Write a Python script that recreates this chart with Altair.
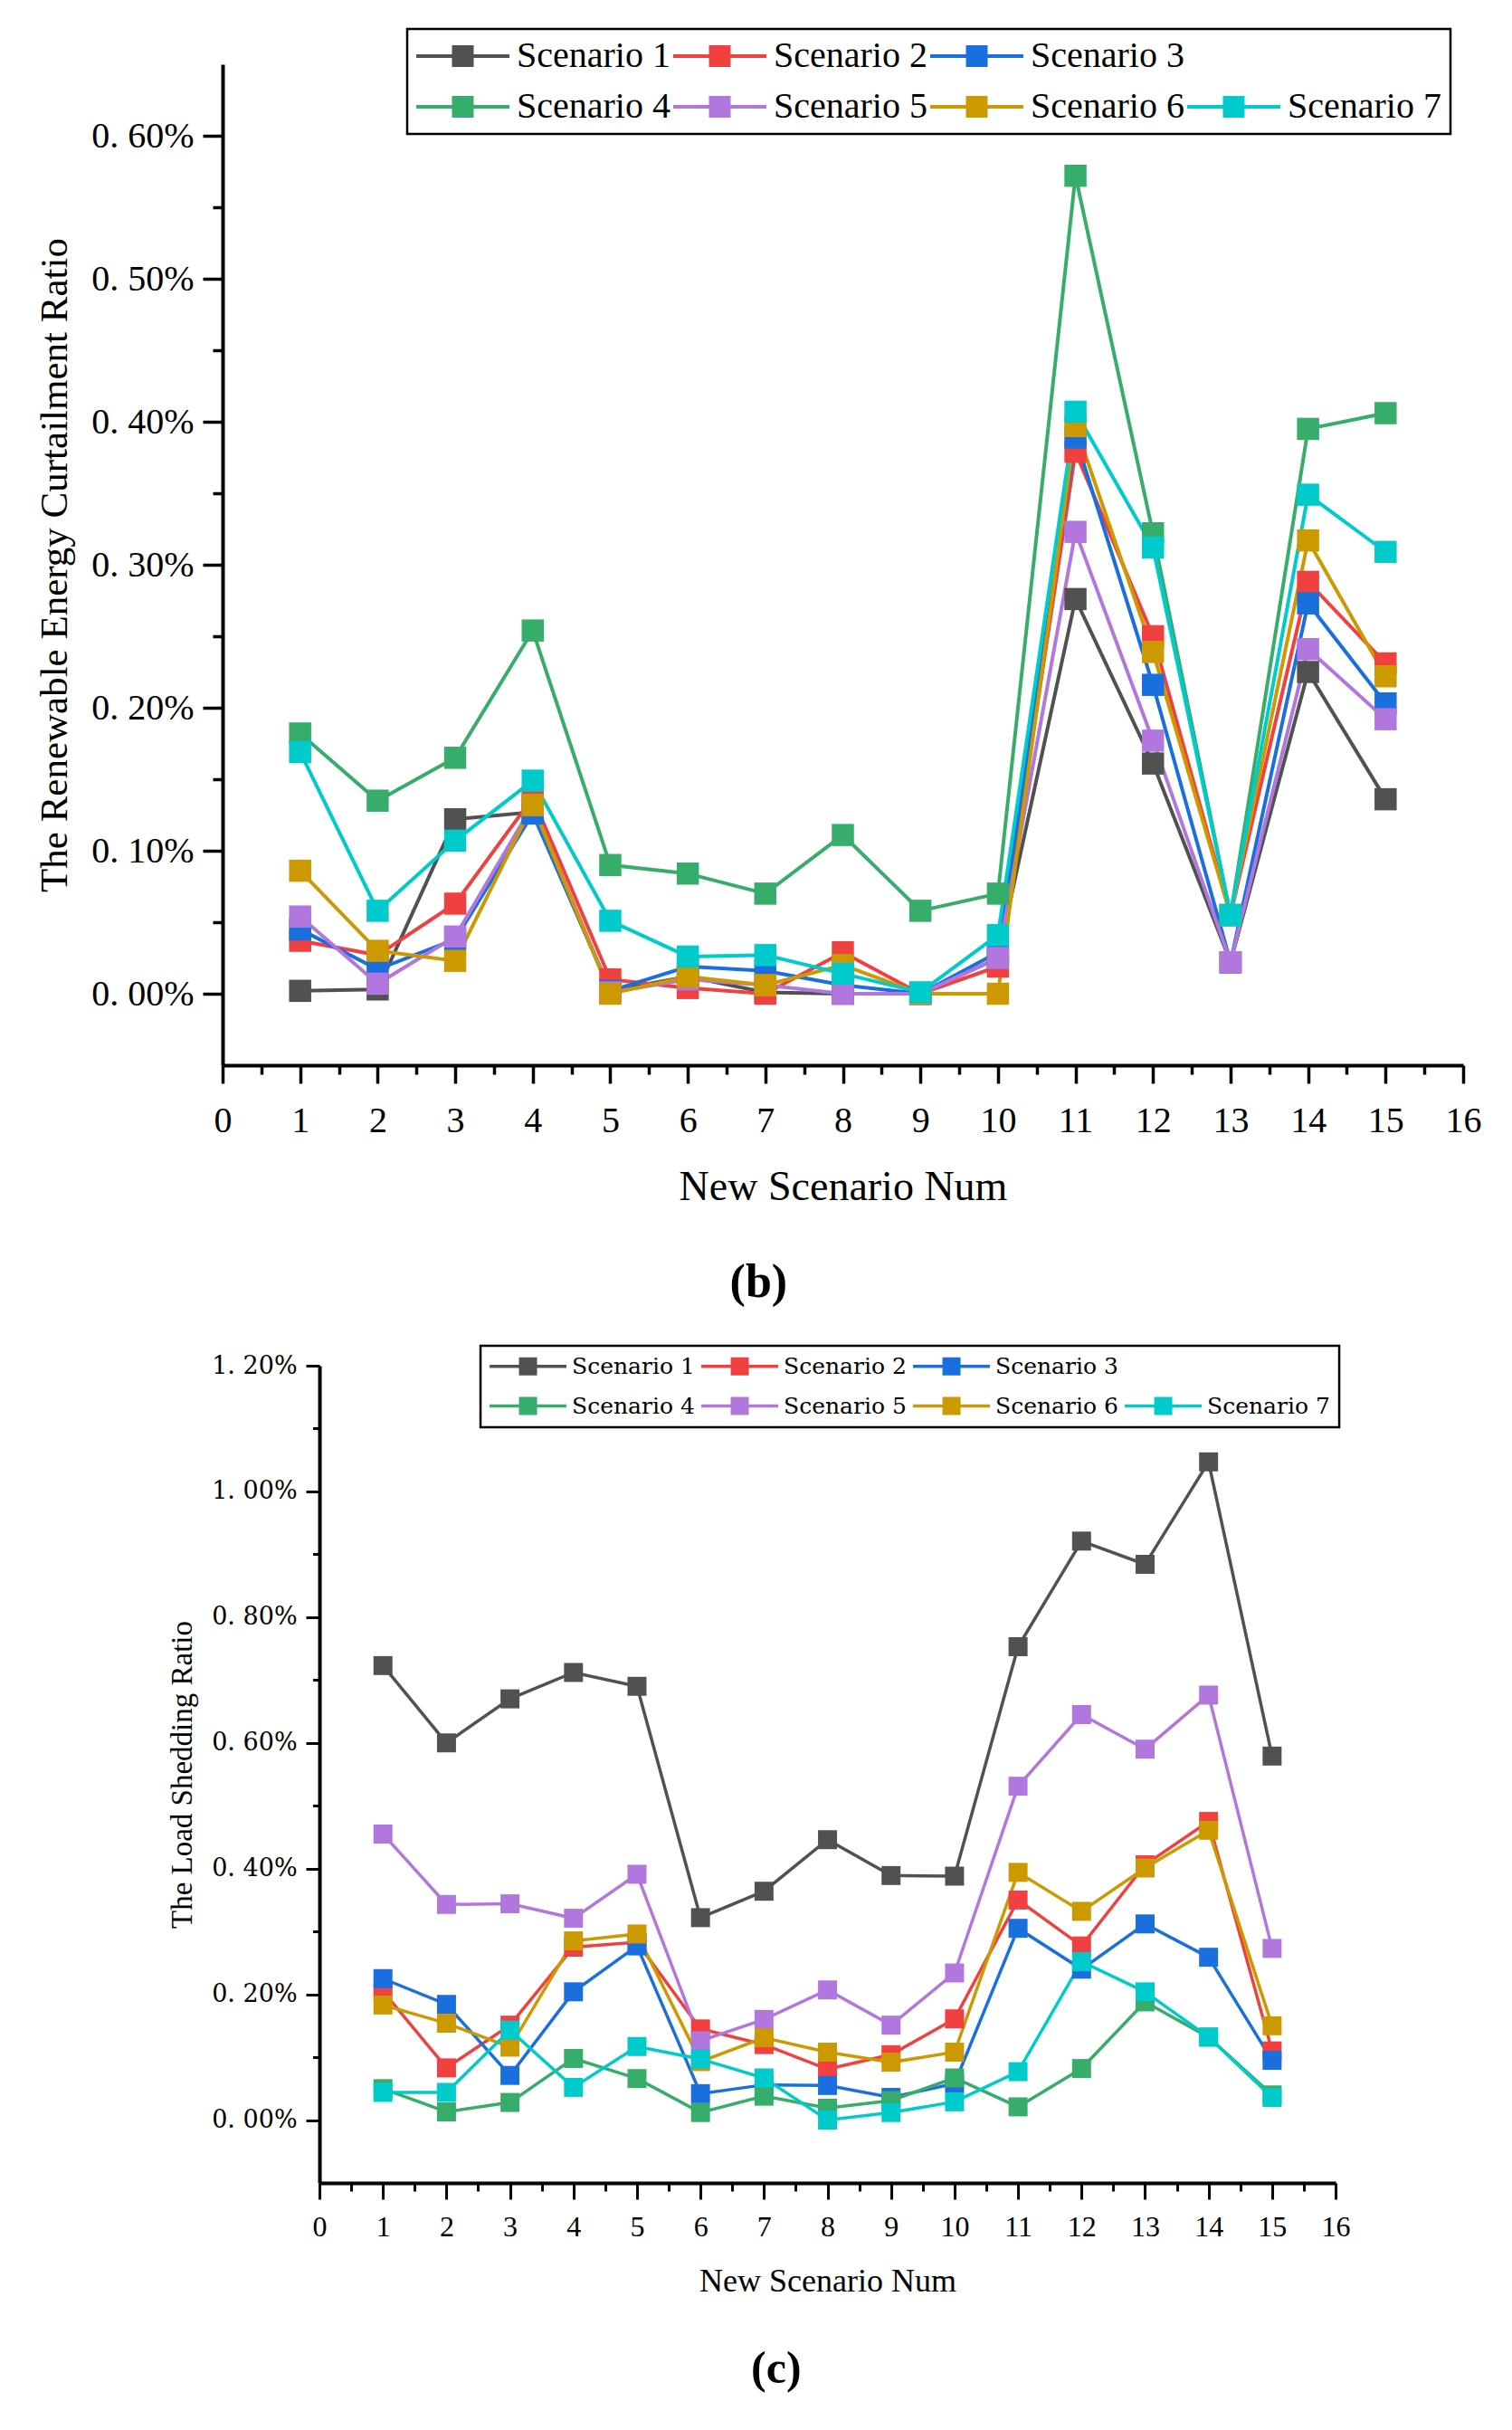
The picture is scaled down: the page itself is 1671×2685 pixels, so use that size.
import altair as alt
import pandas as pd

# ---------------- data ----------------
x_nums = list(range(1, 16))
series = ["Scenario 1", "Scenario 2", "Scenario 3", "Scenario 4",
          "Scenario 5", "Scenario 6", "Scenario 7"]
colors = ["#515151", "#F14040", "#1A6FDF", "#37AD6B", "#B177DE", "#CC9900", "#00CBCC"]
# legend layout of the original: 3 entries in the first row, 4 in the second
legend_domain = series[:3] + [" "] + series[3:]
legend_range = colors[:3] + ["rgba(0,0,0,0)"] + colors[3:]

# (b) renewable energy curtailment ratio, in %
curt_s1 = [0.002, 0.003, 0.122, 0.127, 0.002, 0.012, 0.001, 0.000, 0.000, 0.025, 0.276, 0.161, 0.022, 0.225, 0.136]
curt_s2 = [0.037, 0.027, 0.063, 0.137, 0.010, 0.004, 0.000, 0.029, 0.000, 0.019, 0.379, 0.250, 0.055, 0.288, 0.231]
curt_s3 = [0.045, 0.017, 0.038, 0.126, 0.002, 0.019, 0.016, 0.006, 0.000, 0.029, 0.389, 0.216, 0.022, 0.273, 0.203]
curt_s4 = [0.182, 0.135, 0.165, 0.254, 0.090, 0.084, 0.070, 0.111, 0.058, 0.070, 0.572, 0.322, 0.055, 0.395, 0.406]
curt_s5 = [0.054, 0.007, 0.040, 0.132, 0.001, 0.010, 0.006, 0.000, 0.000, 0.025, 0.323, 0.177, 0.022, 0.241, 0.192]
curt_s6 = [0.086, 0.030, 0.023, 0.132, 0.000, 0.012, 0.006, 0.020, 0.000, 0.000, 0.397, 0.239, 0.055, 0.317, 0.222]
curt_s7 = [0.169, 0.058, 0.107, 0.149, 0.051, 0.026, 0.027, 0.014, 0.001, 0.041, 0.407, 0.312, 0.055, 0.349, 0.309]

# (c) load shedding ratio, in %
shed_s1 = [0.723, 0.600, 0.670, 0.712, 0.690, 0.322, 0.364, 0.446, 0.389, 0.388, 0.753, 0.921, 0.884, 1.047, 0.579]
shed_s2 = [0.205, 0.083, 0.151, 0.275, 0.283, 0.145, 0.120, 0.081, 0.104, 0.161, 0.350, 0.277, 0.406, 0.475, 0.110]
shed_s3 = [0.225, 0.184, 0.071, 0.204, 0.277, 0.042, 0.056, 0.055, 0.036, 0.058, 0.305, 0.240, 0.312, 0.259, 0.095]
shed_s4 = [0.050, 0.013, 0.028, 0.098, 0.066, 0.012, 0.038, 0.019, 0.031, 0.067, 0.021, 0.082, 0.188, 0.132, 0.040]
shed_s5 = [0.455, 0.343, 0.344, 0.321, 0.391, 0.126, 0.160, 0.207, 0.151, 0.234, 0.531, 0.645, 0.590, 0.676, 0.273]
shed_s6 = [0.183, 0.154, 0.116, 0.285, 0.296, 0.093, 0.131, 0.108, 0.092, 0.108, 0.394, 0.332, 0.401, 0.461, 0.150]
shed_s7 = [0.044, 0.044, 0.143, 0.052, 0.117, 0.097, 0.067, 0.000, 0.012, 0.029, 0.077, 0.252, 0.204, 0.132, 0.036]

x_major = list(range(0, 17))
x_minor = [i + 0.5 for i in range(16)]
curt_major = [0.0, 0.1, 0.2, 0.3, 0.4, 0.5, 0.6]
curt_minor = [0.05, 0.15, 0.25, 0.35, 0.45, 0.55]
shed_major = [0.0, 0.2, 0.4, 0.6, 0.8, 1.0, 1.2]
shed_minor = [0.1, 0.3, 0.5, 0.7, 0.9, 1.1]


def long_df(lists):
    rows = []
    for name, vals in zip(series, lists):
        for xv, v in zip(x_nums, vals):
            rows.append({"num": xv, "val": v, "series": name})
    return pd.DataFrame(rows)


df_b = long_df([curt_s1, curt_s2, curt_s3, curt_s4, curt_s5, curt_s6, curt_s7])
df_c = long_df([shed_s1, shed_s2, shed_s3, shed_s4, shed_s5, shed_s6, shed_s7])

LABEL = "replace(format(datum.value, '.2f'), '.', '. ') + '%'"
SERIF = "Liberation Serif"


def panel(df, st):
    xs = alt.Scale(domain=[0, 16], nice=False, zero=False)
    ys = alt.Scale(domain=st["ydom"], nice=False, zero=False)
    cs = alt.Scale(domain=legend_domain, range=legend_range)

    common = dict(grid=False, domainColor="black", tickColor="black",
                  labelColor="black", titleColor="black")
    x_main = alt.Axis(values=x_major, format="d", orient="bottom",
                      tickSize=st["xtick"], tickWidth=st["tw"], domainWidth=st["dw"],
                      labelFont=SERIF, labelFontSize=st["xlab"], labelPadding=st["xlabpad"],
                      labelFlush=False, labelOverlap=False,
                      title="New Scenario Num", titleFont=SERIF, titleFontSize=st["xtitle"],
                      titleFontWeight="normal", titlePadding=st["xtitlepad"], **common)
    x_min = alt.Axis(values=x_minor, orient="bottom", labels=False, domain=False,
                     tickSize=st["xtick"] / 2, tickWidth=st["tw"], title="", **common)
    y_main = alt.Axis(values=st["ymajor"], labelExpr=LABEL, orient="left",
                      tickSize=st["ytick"], tickWidth=st["tw"], domainWidth=st["dw"],
                      labelFont=st["ylabfont"], labelFontSize=st["ylab"], labelPadding=st["ylabpad"],
                      labelOverlap=False, labelFlush=False,
                      title=st["ytitle_text"], titleFont=SERIF, titleFontSize=st["ytitle"],
                      titleFontWeight="normal", titlePadding=st["ytitlepad"], **common)
    y_min = alt.Axis(values=st["yminor"], orient="left", labels=False, domain=False,
                     tickSize=st["ytick"] / 2, tickWidth=st["tw"], title="", **common)

    legend = alt.Legend(
        title=None, orient="none", legendX=st["legx"], legendY=st["legy"],
        direction="horizontal", columns=4,
        symbolType=st["sympath"], symbolSize=st["symsize"],
        symbolStrokeWidth=0, symbolOffset=st["symoff"], labelOffset=st["laboff"],
        labelFont=st["legfont"], labelFontSize=st["legsize"], labelColor="black",
        labelLimit=500, columnPadding=st["colpad"], rowPadding=st["rowpad"],
        padding=st["legpad"], strokeColor="black", fillColor="white",
    )
    lines = alt.Chart(df).mark_line(strokeWidth=st["lw"]).encode(
        x=alt.X("num:Q", scale=xs, axis=x_main),
        y=alt.Y("val:Q", scale=ys, axis=y_main),
        color=alt.Color("series:N", scale=cs, legend=legend),
    )
    squares = alt.Chart(df).mark_square(size=st["msize"], opacity=1, filled=True).encode(
        x=alt.X("num:Q", scale=xs, axis=x_min),
        y=alt.Y("val:Q", scale=ys, axis=y_min),
        color=alt.Color("series:N", scale=cs, legend=legend),
    )
    layers = [lines, squares]
    if st["extra_right"]:
        # invisible right-hand spacer axis to reproduce the original's horizontal placement
        spacer_axis = alt.Axis(orient="right", values=[0.0], ticks=False, domain=False, grid=False,
                               labelOpacity=0, labelExpr="'0000'", labelFont="DejaVu Serif",
                               labelFontSize=st["extra_right"], labelPadding=3, title="")
        layers.append(alt.Chart(df).mark_point(opacity=0).encode(
            y=alt.Y("val:Q", scale=ys, axis=spacer_axis)))
    return alt.layer(*layers).resolve_axis(x="independent", y="independent").properties(
        width=st["w"], height=st["h"],
        title=alt.TitleParams(text=st["cap"], orient="bottom", anchor="middle", frame="bounds",
                              font=SERIF, fontSize=st["capsize"], fontWeight="bold",
                              color="black", offset=st["capoff"]),
    )


style_b = dict(
    w=1371, h=1106, ydom=[-0.05, 0.65], ymajor=curt_major, yminor=curt_minor,
    xtick=20, ytick=22, tw=3.5, dw=4, xlab=40, xlabpad=21, xtitle=46, xtitlepad=31,
    ylabfont=SERIF, ylab=40, ylabpad=10, ytitle_text="The Renewable Energy Curtailment Ratio",
    ytitle=43, ytitlepad=18, lw=4, msize=600,
    legx=204, legy=-39,
    sympath="M-4.29,-0.167H4.29V0.167H-4.29Z M-1,-1H1V1H-1Z",
    symsize=576, symoff=31.5, laboff=39.5, legfont=SERIF, legsize=40, colpad=3, rowpad=16,
    legpad=10, cap="(b)", capsize=52, capoff=58, extra_right=0,
)
style_c = dict(
    w=1123, h=903, ydom=[-0.1, 1.2], ymajor=shed_major, yminor=shed_minor,
    xtick=18, ytick=15, tw=3, dw=4, xlab=32, xlabpad=15, xtitle=36, xtitlepad=27,
    ylabfont="DejaVu Serif", ylab=27, ylabpad=10, ytitle_text="The Load Shedding Ratio",
    ytitle=33, ytitlepad=15, lw=3.5, msize=440,
    legx=178, legy=-22,
    sympath="M-4.25,-0.175H4.25V0.175H-4.25Z M-1,-1H1V1H-1Z",
    symsize=400, symoff=30, laboff=36, legfont="DejaVu Serif", legsize=25, colpad=7, rowpad=18,
    legpad=10, cap="(c)", capsize=50, capoff=55, extra_right=20,
)

top = panel(df_b, style_b)
bottom = panel(df_c, style_c)

chart = alt.vconcat(top, bottom, spacing=42, center=True).resolve_scale(
    color="independent"
).properties(
    padding={"left": 31, "top": 22, "right": 5, "bottom": 5},
    background="white",
).configure_view(stroke=None).configure_legend(strokeWidth=2.5)

chart.save("out.html", embed_options={"renderer": "svg", "actions": False})
